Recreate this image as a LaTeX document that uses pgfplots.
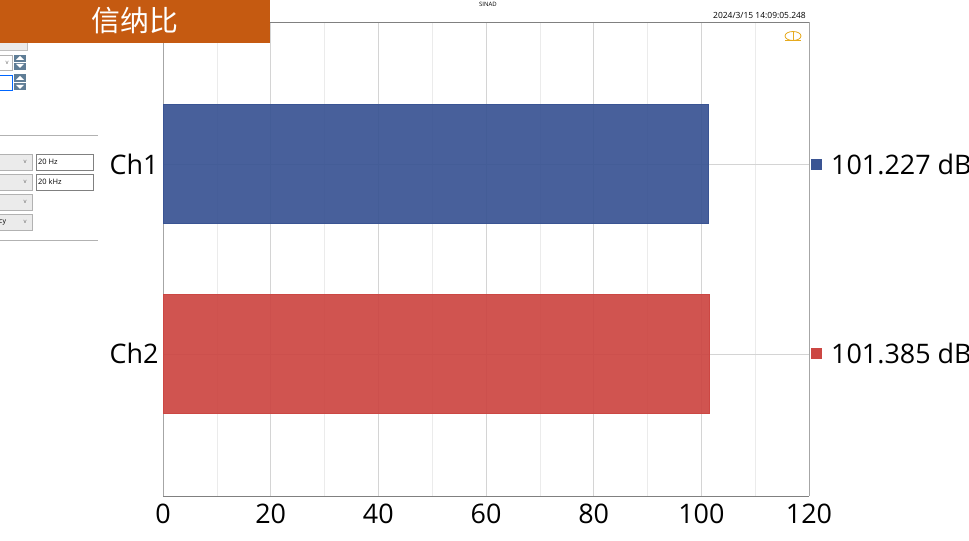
\documentclass[border=0pt]{standalone}
\usepackage{pgfplots}
\pgfplotsset{compat=1.18}
\usepackage{fontspec}
\setmainfont{Open Sans}
\newfontfamily\cjk{Noto Sans CJK SC}
\definecolor{barblue}{RGB}{58,84,147}
\definecolor{barred}{RGB}{204,71,67}
\definecolor{titleorange}{RGB}{197,90,17}
\definecolor{spin}{RGB}{95,125,150}
\definecolor{logo}{RGB}{230,170,30}
\begin{document}
\begin{tikzpicture}[x=1bp,y=1bp]
\useasboundingbox (0,0) rectangle (969,541);
\clip (0,0) rectangle (969,541);
\begin{axis}[
  at={(163bp,45bp)}, anchor=south west,
  scale only axis, width=646bp, height=474bp,
  xbar, bar width=119bp,
  xmin=0, xmax=120, ymin=-0.75, ymax=1.75,
  xtick={0,20,...,120}, minor x tick num=1,
  ytick={0,1}, yticklabels={Ch2,Ch1},
  xmajorgrids, xminorgrids, ymajorgrids,
  major grid style={draw=black!17},
  minor grid style={draw=black!8},
  major tick length=0pt, minor tick length=0pt,
  tick label style={font=\fontsize{27}{29}\selectfont},
  xticklabel style={yshift=-4bp},
  yticklabel style={xshift=-1bp},
  /pgf/number format/assume math mode=true,
  separate axis lines,
  x axis line style={draw=black!50},
  y axis line style={draw=black!35},
  clip=false,
]
\addplot[bar shift=0pt, fill=barblue, draw=barblue, fill opacity=0.93] coordinates {(101.227,1)};
\addplot[bar shift=0pt, fill=barred, draw=barred, fill opacity=0.93] coordinates {(101.385,0)};
\node[anchor=west, inner sep=2bp, font=\fontsize{27}{29}\selectfont] at (axis cs:120,1)
  {\textcolor{barblue}{\rule[4.5bp]{11bp}{11bp}}\hspace{9bp}101.227 dB};
\node[anchor=west, inner sep=2bp, font=\fontsize{27}{29}\selectfont] at (axis cs:120,0)
  {\textcolor{barred}{\rule[4.5bp]{11bp}{11bp}}\hspace{9bp}101.385 dB};
\end{axis}
% top small texts
\node[font=\fontsize{6}{7}\selectfont] at (488,537) {SINAD};
\node[anchor=east, font=\fontsize{8.5}{10}\selectfont, inner sep=0pt] at (806,526) {2024/3/15 14:09:05.248};
% logo
\draw[logo, line width=0.8bp] (793,505) ellipse (8 and 4.5);
\draw[logo, line width=0.8bp] (793,509) -- (793,501);
\draw[logo, line width=1bp] (785,500) -- (801,500);
% left GUI panel
\draw[fill=black!8, draw=black!25] (-1,491) rectangle (27,503);
\draw[fill=white, draw=black!30] (-1,471) rectangle (12,486);
\node[font=\fontsize{6}{7}\selectfont, text=black!60, inner sep=0pt] at (7,478) {v};
\fill[spin] (14,479) rectangle (26,486);
\fill[spin] (14,471) rectangle (26,478);
\fill[white] (16,481) -- (24,481) -- (20,485) -- cycle;
\fill[white] (16,477) -- (24,477) -- (20,473) -- cycle;
\draw[fill=white, draw=blue!60!cyan] (-1,451) rectangle (12,466);
\fill[spin] (14,459) rectangle (26,467);
\fill[spin] (14,451) rectangle (26,458);
\fill[white] (16,461) -- (24,461) -- (20,465) -- cycle;
\fill[white] (16,456) -- (24,456) -- (20,452) -- cycle;
\draw[black!30] (0,406) -- (98,406);
\foreach \yy in {371,351,331,311} {
  \draw[fill=black!8, draw=black!30] (-1,\yy) rectangle (32,\yy+16);
  \node[font=\fontsize{6}{7}\selectfont, text=black!60, inner sep=0pt] at (25,\yy+8) {v};
}
\node[anchor=west, font=\fontsize{7}{8}\selectfont, inner sep=0pt] at (-1,319) {cy};
\draw[fill=white, draw=black!50] (36,371) rectangle (93,387);
\node[anchor=west, font=\fontsize{7.5}{8}\selectfont, inner sep=0pt] at (38,379) {20 Hz};
\draw[fill=white, draw=black!50] (36,351) rectangle (93,367);
\node[anchor=west, font=\fontsize{7.5}{8}\selectfont, inner sep=0pt] at (38,359) {20 kHz};
\draw[black!30] (0,301) -- (98,301);
% title box
\fill[titleorange] (0,498) rectangle (270,541);
\node[text=white, font=\cjk\fontsize{29}{32}\selectfont] at (135,520) {信纳比};
\end{tikzpicture}
\end{document}
